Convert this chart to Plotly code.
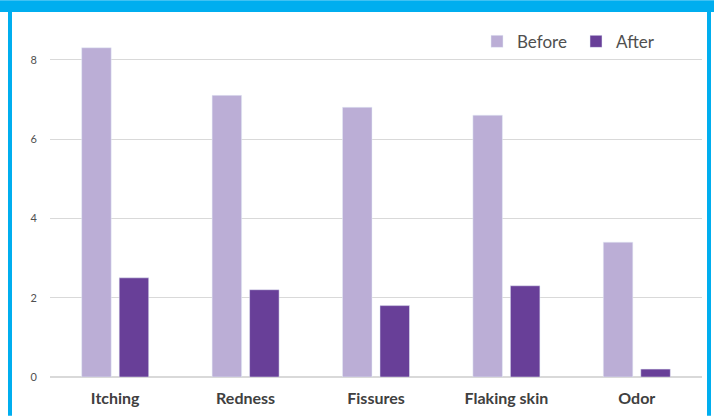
import plotly.graph_objects as go

categories = ["Itching", "Redness", "Fissures", "Flaking skin", "Odor"]
before = [8.3, 7.1, 6.8, 6.6, 3.4]
after = [2.5, 2.2, 1.8, 2.3, 0.2]
y_ticks = [0, 2, 4, 6, 8]

fig = go.Figure()
fig.add_trace(go.Bar(name="Before", x=categories, y=before, marker_color="#bbaed6"))
fig.add_trace(go.Bar(name="After", x=categories, y=after, marker_color="#683f98"))

blue = "#00aeef"
L, R, T, B = 50, 12, 20, 39
W, H = 714, 419
pw, ph = W - L - R, H - T - B

def px_to_x(p):
    return (p - L) / pw

def py_to_y(p):
    return (H - B - p) / ph

shapes = [
    dict(type="rect", xref="paper", yref="paper", x0=px_to_x(0), x1=px_to_x(W),
         y0=py_to_y(12), y1=py_to_y(0), fillcolor=blue, line_width=0, layer="above"),
    dict(type="rect", xref="paper", yref="paper", x0=px_to_x(8), x1=px_to_x(12),
         y0=py_to_y(H), y1=py_to_y(12), fillcolor=blue, line_width=0, layer="above"),
    dict(type="rect", xref="paper", yref="paper", x0=px_to_x(707), x1=px_to_x(711),
         y0=py_to_y(H), y1=py_to_y(12), fillcolor=blue, line_width=0, layer="above"),
]

fig.update_layout(
    width=W, height=H,
    margin=dict(l=L, r=R, t=T, b=B, pad=0),
    paper_bgcolor="white", plot_bgcolor="white",
    barmode="group", bargap=0.425, bargroupgap=0.213,
    font=dict(family="Lato, Carlito, sans-serif", color="#595959"),
    shapes=shapes,
    legend=dict(orientation="h", x=px_to_x(477), xanchor="left", y=py_to_y(42), yanchor="middle",
                font=dict(size=17, color="#505050"), itemwidth=30, entrywidth=54,
                bgcolor="rgba(0,0,0,0)"),
    xaxis=dict(showgrid=False, showline=False, ticks="", ticklabelstandoff=10,
               tickfont=dict(size=16, color="#404040", family="Lato, sans-serif", weight="bold")),
    yaxis=dict(range=[0, 9], tickvals=y_ticks, showgrid=True, gridcolor="#d9d9d9", gridwidth=1,
               zeroline=True, zerolinecolor="#d9d9d9", zerolinewidth=1.5,
               tickfont=dict(size=11, color="#505050"), ticklabelstandoff=12),
)

fig.write_html("out.html", post_script="document.body.style.margin='0';",
               config={"displayModeBar": False})
